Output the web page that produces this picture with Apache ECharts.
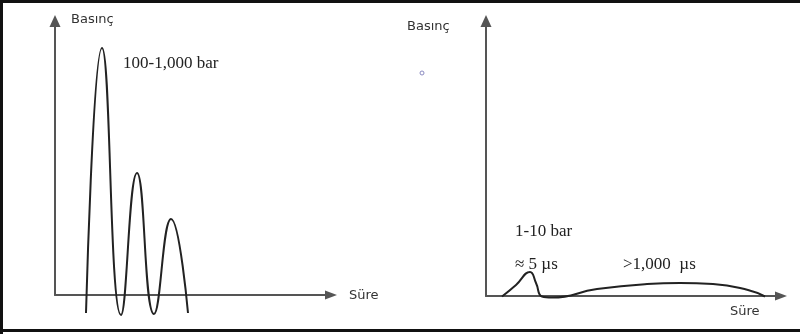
<!DOCTYPE html>
<html>
<head>
<meta charset="utf-8">
<script src="https://cdn.jsdelivr.net/npm/echarts@6/dist/echarts.min.js"></script>
<style>
html,body{margin:0;padding:0;background:#fff;}
#chart{width:800px;height:334px;}
</style>
</head>
<body>
<div id="chart"></div>
<script>
// Left panel: shock pressure oscillations (arbitrary units)
const leftTime = [31, 47, 66, 82, 99, 116, 133];
const leftPressure = [-18, 247, -20, 122, -19, 76, -18];
// Right panel: short pulse then long low plateau
const rightTime = [16, 30, 44, 50, 56, 66, 111, 161, 194, 227, 262, 279];
const rightPressure = [-0.5, 11, 24, 13, -0.5, -1.5, 7, 12, 13, 12, 6, -0.5];
const axisNameY = 'Basınç';
const axisNameX = 'Süre';
const leftNote = '100-1,000 bar';
const rightNotes = ['1-10 bar', '≈ 5 µs', '>1,000  µs'];

const leftData = leftTime.map((t, i) => [t, leftPressure[i]]);
const rightData = rightTime.map((t, i) => [t, rightPressure[i]]);

const axisColor = '#555';
const curveColor = '#222';

function axisCommon(extra) {
  return Object.assign({
    type: 'value',
    splitLine: {show: false},
    axisTick: {show: false},
    axisLabel: {show: false}
  }, extra);
}
function line(size) {
  return {show: true, onZero: false, symbol: ['none', 'triangle'], symbolSize: size, lineStyle: {color: axisColor, width: 2}};
}

const chart = echarts.init(document.getElementById('chart'));
const serifFont = '"Liberation Serif", "Times New Roman", serif';
const sansFont = '"DejaVu Sans", sans-serif';

chart.setOption({
  animation: false,
  grid: [
    {left: 55, top: 21, right: 469, bottom: 39},
    {left: 486, top: 21, right: 19, bottom: 38}
  ],
  xAxis: [
    axisCommon({gridIndex: 0, min: 0, max: 276, axisLine: line([9, 12])}),
    axisCommon({gridIndex: 1, min: 0, max: 295, axisLine: line([9, 12])})
  ],
  yAxis: [
    axisCommon({gridIndex: 0, min: 0, max: 274, axisLine: line([11, 12])}),
    axisCommon({gridIndex: 1, min: 0, max: 275, axisLine: line([11, 12])})
  ],
  series: [
    {type: 'line', xAxisIndex: 0, yAxisIndex: 0, data: leftData, smooth: 0.5, clip: false, showSymbol: false,
     lineStyle: {color: curveColor, width: 2}},
    {type: 'line', xAxisIndex: 1, yAxisIndex: 1, data: rightData, smooth: 0.5, clip: false, showSymbol: false,
     lineStyle: {color: curveColor, width: 2}}
  ],
  graphic: [
    {type: 'line', shape: {x1: 1.5, y1: 0, x2: 1.5, y2: 334}, style: {stroke: '#111', lineWidth: 3}},
    {type: 'line', shape: {x1: 0, y1: 1.5, x2: 800, y2: 1.5}, style: {stroke: '#111', lineWidth: 3}},
    {type: 'line', shape: {x1: 0, y1: 330.5, x2: 800, y2: 330.5}, style: {stroke: '#111', lineWidth: 3}},
    {type: 'text', x: 71, y: 20, style: {text: axisNameY, font: '13px ' + sansFont, fill: '#333', textVerticalAlign: 'middle'}},
    {type: 'text', x: 349, y: 296, style: {text: axisNameX, font: '13px ' + sansFont, fill: '#333', textVerticalAlign: 'middle'}},
    {type: 'text', x: 407, y: 27, style: {text: axisNameY, font: '13px ' + sansFont, fill: '#333', textVerticalAlign: 'middle'}},
    {type: 'text', x: 730, y: 312, style: {text: axisNameX, font: '13px ' + sansFont, fill: '#333', textVerticalAlign: 'middle'}},
    {type: 'text', x: 123, y: 64, style: {text: leftNote, font: '17px ' + serifFont, fill: '#222', textVerticalAlign: 'middle'}},
    {type: 'text', x: 515, y: 232, style: {text: rightNotes[0], font: '17px ' + serifFont, fill: '#222', textVerticalAlign: 'middle'}},
    {type: 'text', x: 515, y: 265, style: {text: rightNotes[1], font: '17px ' + serifFont, fill: '#222', textVerticalAlign: 'middle'}},
    {type: 'text', x: 623, y: 265, style: {text: rightNotes[2], font: '17px ' + serifFont, fill: '#222', textVerticalAlign: 'middle'}},
    {type: 'circle', shape: {cx: 422, cy: 73, r: 2}, style: {fill: 'none', stroke: '#8a8ac0', lineWidth: 1}}
  ]
});
</script>
</body>
</html>
